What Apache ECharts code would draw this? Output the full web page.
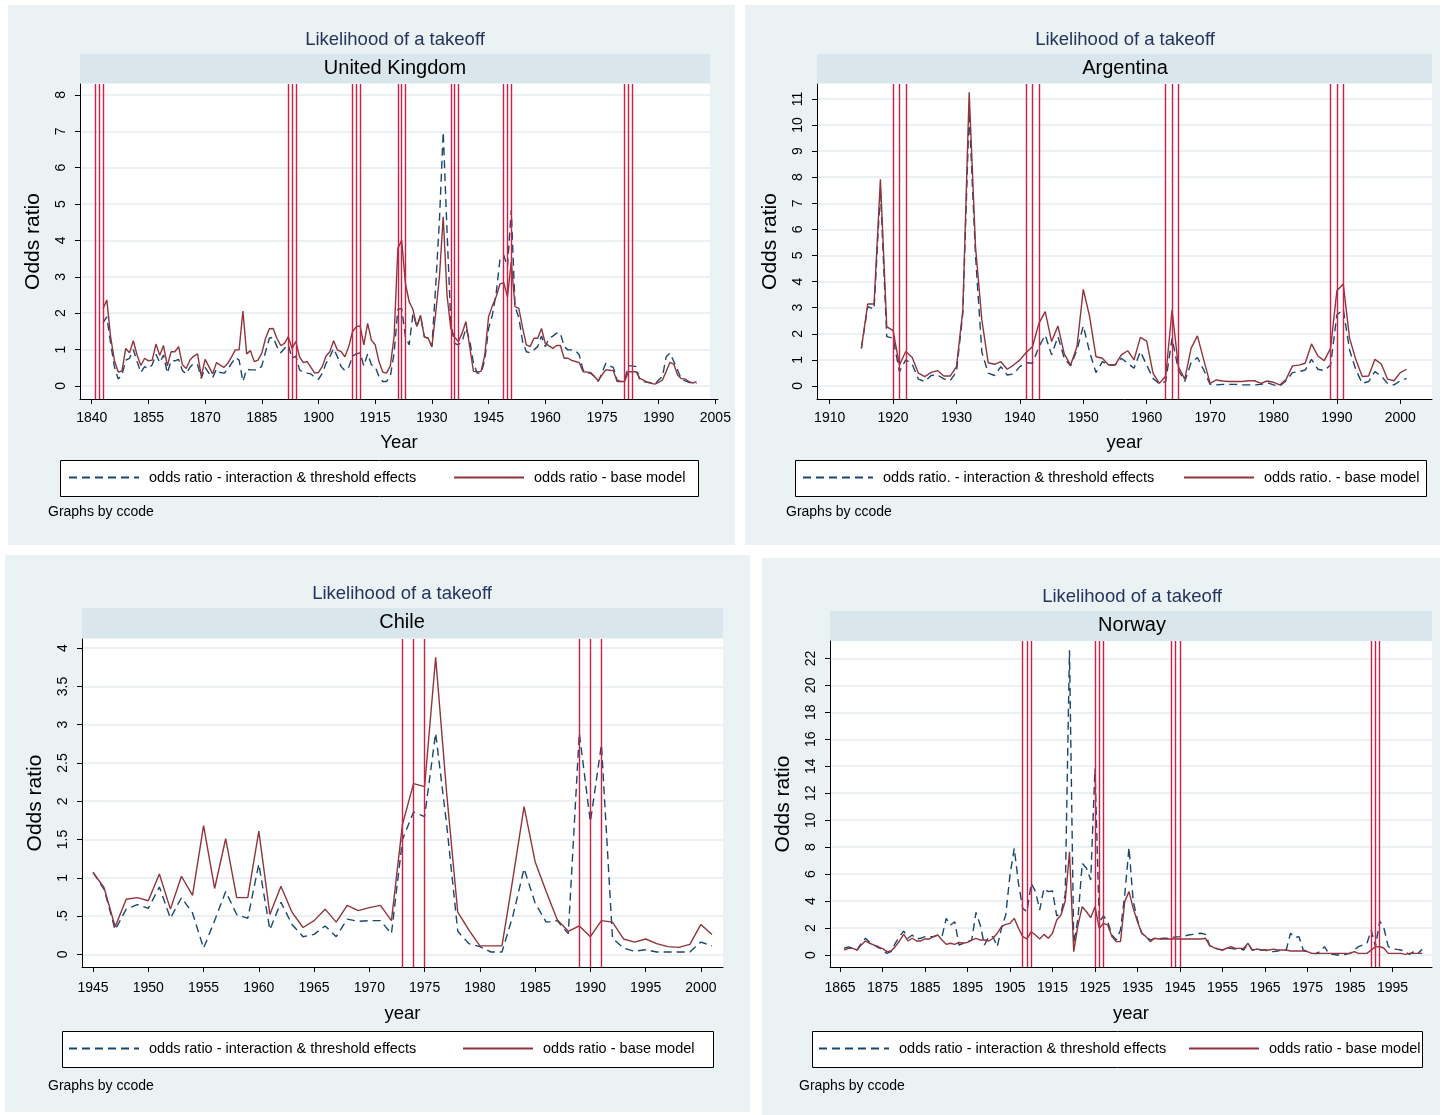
<!DOCTYPE html>
<html><head><meta charset="utf-8">
<script src="https://cdn.jsdelivr.net/npm/echarts@6/dist/echarts.min.js"></script>
<style>html,body{margin:0;padding:0;background:#fff}#c{width:1443px;height:1115px}</style>
</head><body><div id="c"></div>
<script>
// ---------------- DATA ----------------
const nameInterStd = 'odds ratio - interaction & threshold effects';
const nameBaseStd = 'odds ratio - base model';
const nameInterArg = 'odds ratio. - interaction & threshold effects';
const nameBaseArg = 'odds ratio. - base model';

// United Kingdom (1843-2000)
const ukStartYear = 1843;
const ukInteraction = [1.74,1.9,1.17,0.53,0.19,0.3,0.71,0.76,1.0,0.67,
0.37,0.53,0.48,0.58,0.87,0.64,0.85,0.35,0.69,0.69,
0.73,0.42,0.33,0.51,0.62,0.58,0.21,0.51,0.35,0.23,
0.46,0.37,0.35,0.46,0.62,0.78,0.71,0.12,0.46,0.44,
0.44,0.44,0.55,0.94,1.31,1.34,1.08,0.91,1.03,1.13,
0.76,0.82,0.44,0.37,0.35,0.33,0.23,0.18,0.35,0.62,
0.8,1.03,0.8,0.53,0.42,0.51,0.82,0.88,0.91,0.55,
0.88,0.58,0.53,0.26,0.12,0.12,0.26,0.9,2.1,2.13,
1.35,1.13,2.0,1.63,1.92,1.35,1.31,1.08,2.73,4.56,
6.98,4.28,1.72,1.17,1.13,1.22,1.58,1.26,0.62,0.35,
0.35,0.71,1.58,1.95,2.54,3.46,3.6,3.28,4.83,2.18,
1.88,1.22,0.94,0.91,0.99,1.08,1.37,1.08,1.31,1.37,
1.45,1.45,1.08,0.99,0.99,0.97,0.85,0.44,0.35,0.35,
0.26,0.12,0.35,0.62,0.55,0.51,0.16,0.12,0.16,0.55,
0.55,0.53,0.16,0.12,0.1,0.09,0.05,0.16,0.26,0.8,
0.9,0.67,0.44,0.19,0.14,0.1,0.07,0.07];
const ukBase = [2.13,2.36,1.35,0.7,0.38,0.41,1.03,0.91,1.24,0.85,
0.56,0.76,0.69,0.71,1.15,0.84,1.11,0.55,0.94,0.94,
1.08,0.58,0.48,0.71,0.82,0.88,0.26,0.73,0.53,0.33,
0.64,0.57,0.51,0.62,0.8,0.99,0.99,2.06,0.88,0.97,
0.67,0.71,0.9,1.31,1.57,1.58,1.31,1.11,1.17,1.35,
1.03,1.22,0.8,0.64,0.67,0.51,0.35,0.37,0.53,0.82,
0.94,1.24,0.99,0.94,0.8,1.08,1.49,1.63,1.65,1.13,
1.72,1.26,1.13,0.67,0.38,0.35,0.55,1.35,3.78,4.0,
2.82,2.31,2.1,1.63,1.94,1.35,1.31,1.08,2.0,3.0,
4.65,2.5,1.58,1.34,1.22,1.45,1.77,1.08,0.4,0.39,
0.4,0.85,1.9,2.2,2.45,2.8,2.84,2.45,3.41,2.18,
2.13,1.6,1.13,1.08,1.31,1.31,1.58,1.17,1.1,1.03,
1.11,1.11,0.76,0.76,0.7,0.67,0.64,0.39,0.38,0.37,
0.26,0.14,0.3,0.44,0.43,0.42,0.12,0.12,0.12,0.39,
0.39,0.39,0.21,0.16,0.1,0.07,0.05,0.1,0.16,0.4,
0.65,0.6,0.3,0.2,0.19,0.12,0.08,0.12];
const ukTakeoffYears = [1841,1842,1843,1892,1893,1894,1909,1910,1911,1921,1922,1923,1935,1936,1937,1949,1950,1951,1981,1982,1983];
const ukXTicks = [1840,1855,1870,1885,1900,1915,1930,1945,1960,1975,1990,2005];
const ukYTicks = [0,1,2,3,4,5,6,7,8];

// Argentina (1915-2001)
const argStartYear = 1915;
const argInteraction = [1.44,3.04,2.94,7.5,1.89,1.83,0.55,1.0,0.84,0.26,
0.17,0.4,0.42,0.27,0.2,0.55,2.78,10.5,5.0,1.3,
0.49,0.4,0.74,0.42,0.46,0.74,0.89,0.87,1.5,1.95,
1.19,1.89,1.06,0.77,1.38,2.3,1.3,0.51,0.93,0.8,
0.8,1.06,0.87,0.68,1.32,0.8,0.29,0.08,0.17,1.83,
0.61,0.17,0.89,1.09,0.61,0.06,0.04,0.06,0.06,0.06,
0.04,0.04,0.04,0.06,0.13,0.04,0.0,0.2,0.51,0.55,
0.61,1.02,0.64,0.59,0.8,2.72,2.94,1.38,0.61,0.1,
0.17,0.55,0.38,0.1,0.04,0.2,0.29];
const argBase = [1.44,3.14,3.14,7.92,2.27,2.12,0.8,1.32,1.1,0.49,
0.36,0.52,0.59,0.38,0.38,0.74,2.91,11.25,5.34,2.53,
0.89,0.83,0.93,0.64,0.8,1.0,1.28,1.51,2.4,2.85,
1.7,2.3,1.23,0.8,1.5,3.7,2.66,1.12,1.06,0.8,
0.8,1.19,1.35,1.0,1.86,1.72,0.49,0.1,0.38,2.91,
0.74,0.26,1.44,1.92,1.0,0.1,0.23,0.19,0.17,0.17,
0.17,0.2,0.2,0.1,0.19,0.14,0.04,0.26,0.77,0.8,
0.87,1.61,1.15,0.97,1.44,3.65,3.91,1.83,1.0,0.36,
0.38,1.02,0.84,0.26,0.2,0.51,0.64];
const argTakeoffYears = [1920,1921,1922,1941,1942,1943,1963,1964,1965,1989,1990,1991];
const argXTicks = [1910,1920,1930,1940,1950,1960,1970,1980,1990,2000];
const argYTicks = [0,1,2,3,4,5,6,7,8,9,10,11];

// Chile (1945-2001)
const chileStartYear = 1945;
const chileInteraction = [1.07,0.85,0.32,0.59,0.65,0.6,0.88,0.47,0.74,0.54,
0.08,0.44,0.82,0.52,0.47,1.18,0.32,0.68,0.39,0.23,
0.26,0.37,0.23,0.46,0.43,0.44,0.44,0.27,1.5,1.86,
1.8,2.89,1.69,0.3,0.14,0.1,0.03,0.03,0.51,1.12,
0.67,0.42,0.44,0.27,2.89,1.73,2.74,0.21,0.08,0.04,
0.06,0.03,0.03,0.03,0.03,0.16,0.11];
const chileBase = [1.07,0.87,0.36,0.72,0.74,0.7,1.05,0.59,1.02,0.77,
1.68,0.86,1.51,0.74,0.74,1.61,0.52,0.89,0.55,0.35,
0.44,0.59,0.42,0.64,0.57,0.61,0.64,0.44,1.7,2.23,
2.19,3.88,2.1,0.55,0.32,0.11,0.11,0.11,1.0,1.93,
1.21,0.82,0.45,0.3,0.37,0.23,0.44,0.42,0.2,0.16,
0.2,0.14,0.1,0.09,0.13,0.39,0.26];
const chileTakeoffYears = [1973,1974,1975,1989,1990,1991];
const chileXTicks = [1945,1950,1955,1960,1965,1970,1975,1980,1985,1990,1995,2000];
const chileYTicks = [0,0.5,1,1.5,2,2.5,3,3.5,4];
const chileYTickLabels = ['0','.5','1','1.5','2','2.5','3','3.5','4'];

// Norway (1866-2002)
const norStartYear = 1866;
const norInteraction = [0.5,0.6,0.5,0.37,0.87,1.24,0.94,0.74,0.62,0.37,
0.12,0.25,0.87,1.36,1.78,1.24,1.48,1.19,1.24,1.36,
1.36,1.36,1.48,1.36,2.72,2.22,2.47,0.74,0.87,0.99,
1.11,3.16,2.22,0.74,1.36,1.36,0.62,1.98,2.97,5.93,
7.91,5.32,3.46,3.21,5.32,4.7,3.34,4.94,4.7,4.75,
2.9,3.1,4.5,22.6,0.8,2.72,6.8,6.43,5.56,13.84,
2.47,2.89,2.47,1.48,1.11,1.85,4.45,7.96,3.96,2.6,
1.61,1.36,1.11,1.24,1.19,1.24,1.24,1.29,1.34,1.36,
1.41,1.48,1.53,1.58,1.61,1.53,0.69,0.54,0.44,0.37,
0.49,0.49,0.44,0.49,0.37,0.87,0.37,0.37,0.37,0.37,
0.25,0.25,0.3,0.37,0.37,1.61,1.29,1.36,0.37,0.25,
0.12,0.12,0.25,0.62,0.12,0.05,0.0,0.0,0.05,0.12,
0.37,0.62,0.74,0.87,1.85,0.62,2.52,1.98,0.62,0.49,
0.42,0.37,0.25,0.05,0.25,0.12,0.42];
const norBase = [0.37,0.49,0.49,0.37,0.74,1.04,0.87,0.74,0.54,0.49,
0.25,0.3,0.62,1.04,1.53,1.04,1.24,1.04,1.04,1.19,
1.19,1.36,1.48,1.11,0.79,0.87,0.79,0.94,0.87,0.94,
1.11,1.24,1.11,1.11,1.04,1.24,1.61,2.1,2.27,2.35,
2.72,1.98,1.36,1.19,1.73,1.48,1.19,1.53,1.24,1.61,
2.6,2.97,4.0,7.66,0.25,2.22,3.58,3.21,2.77,3.58,
1.98,2.35,2.22,1.36,0.99,0.99,3.96,4.7,3.46,2.47,
1.61,1.36,0.99,1.24,1.19,1.19,1.19,1.19,1.19,1.19,
1.19,1.19,1.19,1.19,1.19,1.24,0.69,0.54,0.44,0.37,
0.5,0.62,0.49,0.49,0.49,0.87,0.37,0.44,0.4,0.37,
0.37,0.44,0.37,0.37,0.37,0.3,0.3,0.3,0.3,0.25,
0.12,0.1,0.12,0.12,0.12,0.12,0.12,0.12,0.12,0.12,
0.25,0.12,0.12,0.12,0.37,0.6,0.62,0.5,0.12,0.12,
0.12,0.12,0.05,0.12,0.12,0.12,0.12];
const norTakeoffYears = [1908,1909,1910,1925,1926,1927,1943,1944,1945,1990,1991,1992];
const norXTicks = [1865,1875,1885,1895,1905,1915,1925,1935,1945,1955,1965,1975,1985,1995];
const norYTicks = [0,2,4,6,8,10,12,14,16,18,20,22];

// ---------------- LAYOUT ----------------
const FONT = '"Liberation Sans", Arial, Helvetica, sans-serif';
const C_PANEL = '#eaf2f3', C_STRIP = '#d9e6eb', C_GRID = '#e4ecef';
const C_BLUE = '#1a476f', C_RED = '#90353b', C_XLINE = '#d21e45', C_TITLE = '#24345f';

const panels = [
 { country:'United Kingdom', start:ukStartYear, inter:ukInteraction, base:ukBase, xl:ukTakeoffYears,
   xTicks:ukXTicks, yTicks:ukYTicks, yLabels:null, names:[nameInterStd,nameBaseStd],
   bg:[8,5,727,540], title:[395,40], strip:[80,54,630,29], stripText:[395,68],
   grid:[80,84,638,315], xr:[1836.9,2005.7], yr:[-0.36,8.3], xName:'Year', xNameGap:34, xMargin:12,
   legBox:[60,460,638,36], legLeft:[68,453], legMid:478, note:[48,512], cover:[710,84,9,315] },
 { country:'Argentina', start:argStartYear, inter:argInteraction, base:argBase, xl:argTakeoffYears,
   xTicks:argXTicks, yTicks:argYTicks, yLabels:null, names:[nameInterArg,nameBaseArg],
   bg:[745,5,695,540], title:[1125,40], strip:[817,54,615,29], stripText:[1125,68],
   grid:[817,84,615,315], xr:[1908,2005], yr:[-0.5,11.57], xName:'year', xNameGap:34, xMargin:12,
   legBox:[795,460,631,36], legLeft:[802,1183], legMid:478, note:[786,512], cover:null },
 { country:'Chile', start:chileStartYear, inter:chileInteraction, base:chileBase, xl:chileTakeoffYears,
   xTicks:chileXTicks, yTicks:chileYTicks, yLabels:chileYTickLabels, names:[nameInterStd,nameBaseStd],
   bg:[5,555,745,557], title:[402,594], strip:[82,608,641,30], stripText:[402,622],
   grid:[82,639,641,328], xr:[1944,2002], yr:[-0.166,4.12], xName:'year', xNameGap:37, xMargin:14,
   legBox:[62,1031,651,36], legLeft:[68,462], legMid:1049, note:[48,1086], cover:null },
 { country:'Norway', start:norStartYear, inter:norInteraction, base:norBase, xl:norTakeoffYears,
   xTicks:norXTicks, yTicks:norYTicks, yLabels:null, names:[nameInterStd,nameBaseStd],
   bg:[762,558,678,557], title:[1132,597], strip:[830,611,602,30], stripText:[1132,625],
   grid:[830,641,602,326], xr:[1862.65,2004.3], yr:[-0.89,23.29], xName:'year', xNameGap:37, xMargin:14,
   legBox:[812,1031,610,36], legLeft:[818,1188], legMid:1049, note:[799,1086], cover:null }
];

function toPairs(start, arr){ return arr.map((v,i)=>[start+i, v]); }
function txt(x,y,text,size,color,align){
  return { type:'text', x:x, y:y, z:50, silent:true,
    style:{ text:text, font: size+'px '+FONT, fill:color,
      align:align||'center', verticalAlign:'middle', textAlign:align||'center', textVerticalAlign:'middle' } };
}

const graphics = [], grids = [], xAxes = [], yAxes = [], legends = [], series = [];
panels.forEach((p,i)=>{
  graphics.push({type:'rect', z:-10, silent:true, shape:{x:p.bg[0],y:p.bg[1],width:p.bg[2],height:p.bg[3]}, style:{fill:C_PANEL}});
  graphics.push({type:'rect', z:-9, silent:true, shape:{x:p.grid[0],y:p.grid[1],width:p.grid[2],height:p.grid[3]}, style:{fill:'#ffffff'}});
  graphics.push({type:'rect', z:-9, silent:true, shape:{x:p.strip[0],y:p.strip[1],width:p.strip[2],height:p.strip[3]}, style:{fill:C_STRIP}});
  graphics.push({type:'rect', z:-9, silent:true, shape:{x:p.legBox[0]+0.5,y:p.legBox[1]+0.5,width:p.legBox[2],height:p.legBox[3]}, style:{fill:'#ffffff', stroke:'#000', lineWidth:1}});
  if (p.cover) graphics.push({type:'rect', z:1, silent:true, shape:{x:p.cover[0],y:p.cover[1],width:p.cover[2],height:p.cover[3]}, style:{fill:C_PANEL}});
  graphics.push(txt(p.title[0], p.title[1], 'Likelihood of a takeoff', 18.5, C_TITLE));
  graphics.push(txt(p.stripText[0], p.stripText[1], p.country, 20, '#000'));
  graphics.push(txt(p.note[0], p.note[1], 'Graphs by ccode', 14, '#000', 'left'));

  grids.push({ left:p.grid[0], top:p.grid[1], width:p.grid[2], height:p.grid[3], containLabel:false, show:false });
  xAxes.push({ type:'value', gridIndex:i, min:p.xr[0], max:p.xr[1],
    axisLine:{show:true, onZero:false, lineStyle:{color:'#000', width:1}},
    axisTick:{show:true, length:5, customValues:p.xTicks, lineStyle:{color:'#000'}},
    axisLabel:{show:true, customValues:p.xTicks, margin:p.xMargin, fontSize:14, color:'#000', fontFamily:FONT,
      formatter: v => String(Math.round(v)) },
    splitLine:{show:false},
    name:p.xName, nameLocation:'middle', nameGap:p.xNameGap,
    nameTextStyle:{fontSize:18.5, color:'#000', fontFamily:FONT} });
  const yl = p.yLabels, yt = p.yTicks;
  yAxes.push({ type:'value', gridIndex:i, min:p.yr[0], max:p.yr[1],
    axisLine:{show:true, onZero:false, lineStyle:{color:'#000', width:1}},
    axisTick:{show:true, length:5, customValues:yt, lineStyle:{color:'#000'}},
    axisLabel:{show:true, customValues:yt, rotate:90, margin:12, fontSize:14, color:'#000', fontFamily:FONT,
      formatter: v => { if (!yl) return String(v); const k = yt.indexOf(v); return k>=0 ? yl[k] : String(v); } },
    splitLine:{show:true, lineStyle:{color:C_GRID, width:1.5}},
    name:'Odds ratio', nameLocation:'middle', nameGap:36,
    nameTextStyle:{fontSize:21, color:'#000', fontFamily:FONT} });

  series.push({ type:'line', name:p.names[0], xAxisIndex:i, yAxisIndex:i, data:toPairs(p.start,p.inter),
    symbol:'none', showSymbol:false, silent:true, z:2,
    lineStyle:{color:C_BLUE, width:1.4, type:[8,5]}, itemStyle:{color:C_BLUE},
    markLine:{ symbol:['none','none'], silent:true, animation:false, label:{show:false},
      lineStyle:{color:C_XLINE, width:1.4, type:'solid'}, emphasis:{disabled:true},
      data: p.xl.map(y=>({xAxis:y})) } });
  series.push({ type:'line', name:p.names[1], xAxisIndex:i, yAxisIndex:i, data:toPairs(p.start,p.base),
    symbol:'none', showSymbol:false, silent:true, z:3,
    lineStyle:{color:C_RED, width:1.4, type:'solid'}, itemStyle:{color:C_RED} });

  [0,1].forEach(k=>{
    legends.push({ left:p.legLeft[k], top:p.legMid-8, orient:'horizontal', data:[p.names[k]],
      itemWidth:70, itemHeight:16, selectedMode:false, padding:0,
      itemStyle:{opacity:0, borderWidth:0},
      textStyle:{fontSize:14.5, color:'#000', fontFamily:FONT, padding:[0,0,0,5]} });
  });
});

const chart = echarts.init(document.getElementById('c'), null, {renderer:'canvas'});
chart.setOption({
  animation:false,
  backgroundColor:'#ffffff',
  graphic:{elements:graphics},
  grid:grids, xAxis:xAxes, yAxis:yAxes, legend:legends, series:series
});
</script>
</body></html>
